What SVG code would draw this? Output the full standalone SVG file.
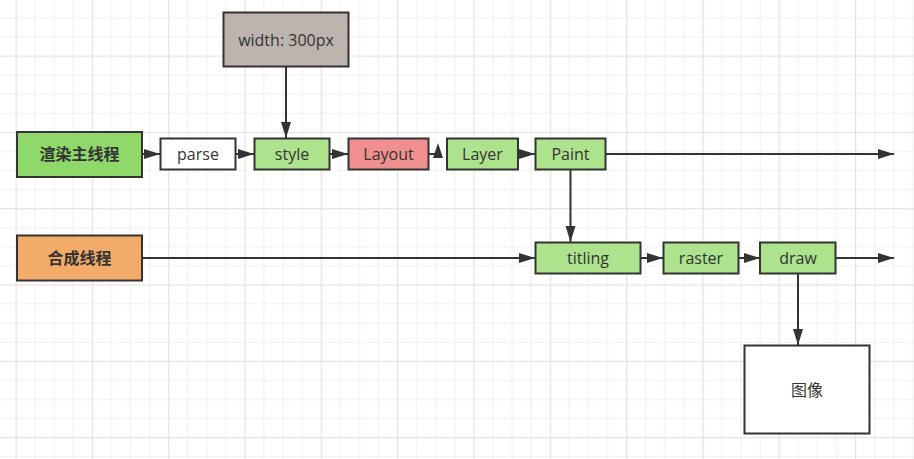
<svg xmlns="http://www.w3.org/2000/svg" width="914" height="459" viewBox="0 0 914 459">
<defs>
<pattern id="grid" patternUnits="userSpaceOnUse" x="15.5" y="55.5" width="76.32" height="76.32">
<rect x="19.08" y="0" width="1" height="76.32" fill="#efefef"/>
<rect x="38.16" y="0" width="1" height="76.32" fill="#efefef"/>
<rect x="57.24" y="0" width="1" height="76.32" fill="#efefef"/>
<rect x="0" y="19.08" width="76.32" height="1" fill="#efefef"/>
<rect x="0" y="38.16" width="76.32" height="1" fill="#efefef"/>
<rect x="0" y="57.24" width="76.32" height="1" fill="#efefef"/>
<rect x="0" y="0" width="1.2" height="76.32" fill="#e2e2e2"/>
<rect x="0" y="0" width="76.32" height="1.2" fill="#e2e2e2"/>
</pattern>
<marker id="arr" markerUnits="userSpaceOnUse" markerWidth="18" markerHeight="12" refX="16" refY="5" orient="auto">
<path d="M0,0 L16,5 L0,10 Z" fill="#333"/>
</marker>
<style>
.n{stroke:#333;stroke-width:2}
.g{fill:#aee38e}
.t{font-family:"Open Sans","Liberation Sans",sans-serif;font-size:16px;fill:#333;text-anchor:middle}
.c{font-family:"Noto Sans CJK SC",sans-serif;font-size:16px;fill:#333;text-anchor:middle}
.b{font-weight:bold}
.e{stroke:#333;stroke-width:2;fill:none}
</style>
</defs>
<rect width="914" height="459" fill="#fff"/>
<rect width="914" height="459" fill="url(#grid)"/>

<g id="connectors">
<line class="e" x1="142" y1="154" x2="160" y2="154" marker-end="url(#arr)"/>
<line class="e" x1="236" y1="154" x2="254" y2="154" marker-end="url(#arr)"/>
<line class="e" x1="330" y1="154" x2="348" y2="154" marker-end="url(#arr)"/>
<line class="e" x1="429" y1="154" x2="438" y2="154"/>
<path d="M438,143 L443,158 L433,158 Z" fill="#333"/>
<line class="e" x1="518" y1="154" x2="535" y2="154" marker-end="url(#arr)"/>
<line class="e" x1="606" y1="154" x2="894" y2="154" marker-end="url(#arr)"/>
<line class="e" x1="286" y1="67" x2="286" y2="138" marker-end="url(#arr)"/>
<line class="e" x1="570.5" y1="170" x2="570.5" y2="242" marker-end="url(#arr)"/>
<line class="e" x1="142" y1="258" x2="535" y2="258" marker-end="url(#arr)"/>
<line class="e" x1="641" y1="258" x2="663" y2="258" marker-end="url(#arr)"/>
<line class="e" x1="739" y1="258" x2="760" y2="258" marker-end="url(#arr)"/>
<line class="e" x1="836" y1="258" x2="894" y2="258" marker-end="url(#arr)"/>
<line class="e" x1="798" y1="274" x2="798" y2="345" marker-end="url(#arr)"/>
</g>

<g id="main-thread">
<rect class="n" x="17" y="132" width="125" height="45" fill="#8fd86a"/>
<text class="c b" x="79.5" y="160">渲染主线程</text>
</g>
<g id="parse">
<rect class="n" x="160.5" y="138.5" width="75" height="31" fill="#fff"/>
<text class="t" x="198" y="160">parse</text>
</g>
<g id="style">
<rect class="n g" x="254.5" y="138.5" width="75" height="31"/>
<text class="t" x="292" y="160">style</text>
</g>
<g id="layout">
<rect class="n" x="348.5" y="138.5" width="80" height="31" fill="#f08f8f"/>
<text class="t" x="388.5" y="160">Layout</text>
</g>
<g id="layer">
<rect class="n g" x="447" y="138.5" width="71" height="31"/>
<text class="t" x="482.5" y="160">Layer</text>
</g>
<g id="paint">
<rect class="n g" x="535.5" y="138.5" width="70" height="31"/>
<text class="t" x="570.5" y="160">Paint</text>
</g>
<g id="width">
<rect class="n" x="223.5" y="12.5" width="125" height="54" fill="#bdb3af"/>
<text class="t" x="286" y="45.5">width: 300px</text>
</g>
<g id="composite-thread">
<rect class="n" x="17" y="235.5" width="125" height="45" fill="#f2ab69"/>
<text class="c b" x="79.5" y="264">合成线程</text>
</g>
<g id="titling">
<rect class="n g" x="535.5" y="242.5" width="105" height="31"/>
<text class="t" x="588" y="264">titling</text>
</g>
<g id="raster">
<rect class="n g" x="663.5" y="242.5" width="75" height="31"/>
<text class="t" x="701" y="264">raster</text>
</g>
<g id="draw">
<rect class="n g" x="760" y="242.5" width="75.5" height="31"/>
<text class="t" x="798" y="264">draw</text>
</g>
<g id="image">
<rect class="n" x="744.5" y="345.5" width="125" height="88" fill="#fff"/>
<text class="c" x="807" y="395.5">图像</text>
</g>
</svg>
